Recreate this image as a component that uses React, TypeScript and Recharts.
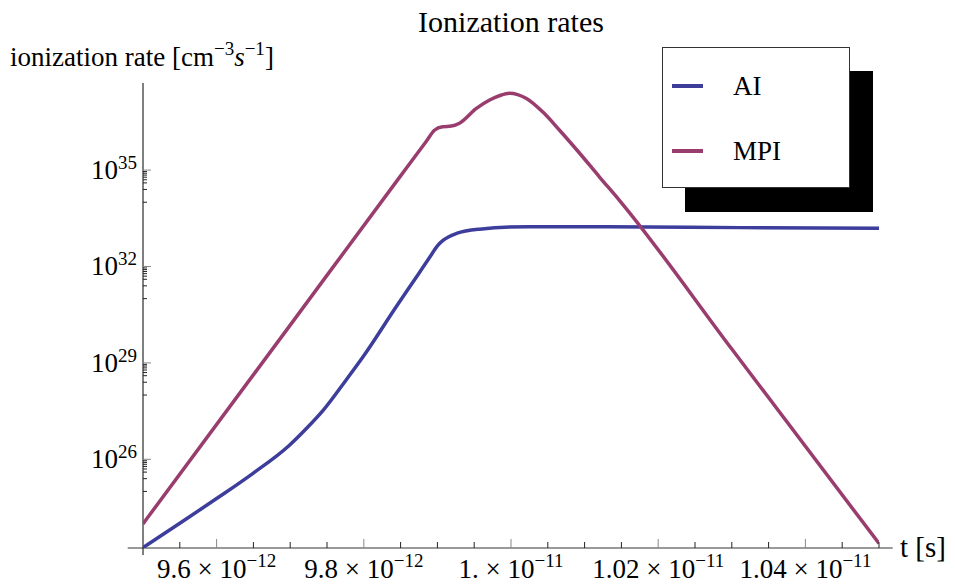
import React from 'react';
import { LineChart, Line, XAxis, YAxis, ReferenceLine } from 'recharts';

// time in seconds, rate in cm^-3 s^-1
const aiTime = [
  9.5e-12, 9.55e-12, 9.6e-12, 9.649e-12, 9.699e-12, 9.722e-12, 9.745e-12, 9.776e-12,
  9.799e-12, 9.844e-12, 9.875e-12, 9.89e-12, 9.9e-12, 9.908e-12, 9.926e-12, 9.957e-12,
  1.0025e-11, 1.012e-11, 1.0311e-11, 1.05e-11,
];
const aiRate = [
  1.78e23, 1.02e24, 6.0e24, 3.6e25, 2.75e26, 9.1e26, 3.4e27, 2.95e28,
  1.55e29, 5.6e30, 6.2e31, 2.0e32, 4.4e32, 6.6e32, 1.07e33, 1.45e33,
  1.74e33, 1.74e33, 1.62e33, 1.55e33,
];

const mpiTime = [
  9.5e-12, 9.7e-12, 9.85e-12, 9.885e-12, 9.896e-12, 9.907e-12, 9.919e-12, 9.93e-12,
  9.953e-12, 9.971e-12, 9.985e-12, 9.998e-12, 1.0009e-11, 1.0021e-11, 1.0043e-11,
  1.0066e-11, 1.0093e-11, 1.012e-11, 1.0147e-11, 1.03e-11, 1.05e-11,
];
const mpiRate = [
  9.8e23, 1.5e30, 6.6e34, 7.9e35, 1.74e36, 2.24e36, 2.34e36, 2.88e36,
  8.3e36, 1.51e37, 2.09e37, 2.45e37, 2.24e37, 1.7e37, 6.5e36,
  1.74e36, 3.4e35, 6.2e34, 1.17e34, 2.7e29, 2.4e23,
];

const seriesNames = ['AI', 'MPI'];
const seriesColors = ['#3d3d9c', '#993d6f'];

const xMajor = [9.6e-12, 9.8e-12, 1.0e-11, 1.02e-11, 1.04e-11];
const xMantissa = ['9.6', '9.8', '1.', '1.02', '1.04'];
const xExponent = ['\u221212', '\u221212', '\u221211', '\u221211', '\u221211'];
const xMinor = [
  9.55e-12, 9.65e-12, 9.7e-12, 9.75e-12, 9.85e-12, 9.9e-12, 9.95e-12, 1.005e-11,
  1.01e-11, 1.015e-11, 1.025e-11, 1.03e-11, 1.035e-11, 1.045e-11, 1.05e-11,
];

const yMajor = [1e26, 1e29, 1e32, 1e35];
const yExponent = ['26', '29', '32', '35'];
const yMinorFactors = [0.9, 0.8, 0.7, 0.6, 0.5, 0.4, 0.25, 0.1];

const aiData = aiTime.map((t, i) => ({ t, rate: aiRate[i] }));
const mpiData = mpiTime.map((t, i) => ({ t, rate: mpiRate[i] }));
const yMinor = yMajor.flatMap((m) => yMinorFactors.map((f) => m * f));

const X_DOMAIN: [number, number] = [9.5e-12, 1.05e-11];
const Y_DOMAIN: [number, number] = [Math.pow(10, 23.24), Math.pow(10, 37.71)];

const FONT = '"Liberation Serif", "DejaVu Serif", serif';

const XTick = (props: any) => {
  const { x, y, payload } = props;
  const i = xMajor.findIndex((m) => Math.abs(m - payload.value) < 1e-16);
  const major = i >= 0;
  return (
    <g>
      <line x1={x} x2={x} y1={y} y2={y - (major ? 9 : 6)} stroke={major ? '#888' : '#222'} strokeWidth={1} />
      {major && (
        <text x={x} y={y + 30} textAnchor="middle" fontSize={27} fontFamily={FONT} fill="#000">
          {xMantissa[i]} {'\u00d7'} 10
          <tspan dy={-11} fontSize={19}>{xExponent[i]}</tspan>
        </text>
      )}
    </g>
  );
};

const YTick = (props: any) => {
  const { x, y, payload } = props;
  const i = yMajor.findIndex((m) => Math.abs(m - payload.value) / m < 1e-6);
  const major = i >= 0;
  return (
    <g>
      <line x1={x} x2={x + (major ? 8 : 4)} y1={y} y2={y} stroke={major ? '#888' : '#222'} strokeWidth={1} />
      {major && (
        <text x={x - 6} y={y + 9} textAnchor="end" fontSize={27} fontFamily={FONT} fill="#000">
          10
          <tspan dy={-10} fontSize={19}>{yExponent[i]}</tspan>
        </text>
      )}
    </g>
  );
};

const LegendBox = () => (
  <div
    style={{
      position: 'absolute',
      left: 662,
      top: 47,
      width: 186,
      height: 139,
      background: '#fff',
      border: '1px solid #333',
      boxShadow: '23px 24px 0 #000',
      fontFamily: FONT,
      fontSize: 27,
    }}
  >
    {seriesNames.map((name, i) => (
      <div key={name} style={{ position: 'absolute', left: 9, top: 21 + i * 65, height: 34, display: 'flex', alignItems: 'center' }}>
        <div style={{ width: 31, height: 4, background: seriesColors[i] }} />
        <span style={{ marginLeft: 30, color: '#000' }}>{name}</span>
      </div>
    ))}
  </div>
);

export default function App() {
  return (
    <div style={{ position: 'absolute', left: 0, top: 0, width: 955, height: 585, background: '#fff' }}>
      <LineChart width={955} height={585} margin={{ top: 83, right: 76, bottom: 36, left: 142 }}>
        <XAxis
          type="number"
          dataKey="t"
          domain={X_DOMAIN}
          allowDataOverflow
          ticks={[...xMajor, ...xMinor]}
          tick={<XTick />}
          tickSize={0}
          tickMargin={0}
          tickLine={false}
          axisLine={false}
          interval={0}
          height={1}
        />
        <YAxis
          type="number"
          scale="log"
          domain={Y_DOMAIN}
          allowDataOverflow
          ticks={[...yMajor, ...yMinor]}
          tick={<YTick />}
          tickSize={0}
          tickMargin={0}
          tickLine={false}
          axisLine={false}
          interval={0}
          width={1}
        />
        <ReferenceLine
          segment={[{ x: 9.4792e-12, y: Y_DOMAIN[0] }, { x: 1.05186e-11, y: Y_DOMAIN[0] }]}
          stroke="#333"
          strokeWidth={1}
          ifOverflow="visible"
        />
        <ReferenceLine
          segment={[{ x: X_DOMAIN[0], y: Math.pow(10, 23.02) }, { x: X_DOMAIN[0], y: Y_DOMAIN[1] }]}
          stroke="#000"
          strokeWidth={1}
          ifOverflow="visible"
        />
        <Line
          data={aiData}
          dataKey="rate"
          name={seriesNames[0]}
          type="monotone"
          stroke={seriesColors[0]}
          strokeWidth={3.5}
          dot={false}
          isAnimationActive={false}
        />
        <Line
          data={mpiData}
          dataKey="rate"
          name={seriesNames[1]}
          type="monotone"
          stroke={seriesColors[1]}
          strokeWidth={3.5}
          dot={false}
          isAnimationActive={false}
        />
      </LineChart>
      <svg width={955} height={585} style={{ position: 'absolute', left: 0, top: 0, pointerEvents: 'none' }}>
        <text x={511} y={32} textAnchor="middle" fontSize={30} fontFamily={FONT} fill="#000">
          Ionization rates
        </text>
        <text x={10} y={66} fontSize={27} fontFamily={FONT} fill="#000">
          ionization rate [cm
          <tspan dy={-11} fontSize={19}>{'\u22123'}</tspan>
          <tspan dy={11} fontStyle="italic">s</tspan>
          <tspan dy={-11} fontSize={19}>{'\u22121'}</tspan>
          <tspan dy={11}>]</tspan>
        </text>
        <text x={900} y={557} fontSize={29} fontFamily={FONT} fill="#000">
          t [s]
        </text>
      </svg>
      <LegendBox />
    </div>
  );
}
